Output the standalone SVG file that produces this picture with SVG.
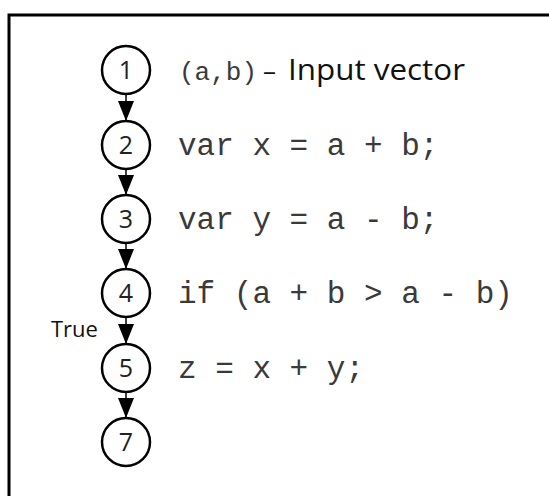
<svg xmlns="http://www.w3.org/2000/svg" width="549" height="496" viewBox="0 0 549 496">
<defs>
<style>
.node circle{fill:#fff;stroke:#000;stroke-width:2.5}
.node text{font-family:"Open Sans","Liberation Sans",sans-serif;font-size:25px;fill:#222;text-anchor:middle}
.code{font-family:"Liberation Mono","Courier New",monospace;font-size:31px;fill:#3a3a3a}
.sans{font-family:"Open Sans","Liberation Sans",sans-serif;fill:#111}
.edge line{stroke:#000;stroke-width:1.5}
</style>
<marker id="arr" viewBox="0 0 20 16" refX="20" refY="8" markerWidth="20" markerHeight="16" markerUnits="userSpaceOnUse" orient="auto">
<path d="M0,0 L20,8 L0,16 Z" fill="#000"/>
</marker>
</defs>
<rect x="0" y="0" width="549" height="496" fill="#fff"/>
<rect x="9" y="15" width="600" height="600" fill="none" stroke="#000" stroke-width="3"/>
<g id="connectors" class="edge">
<line x1="126" y1="94" x2="126" y2="121" marker-end="url(#arr)"/>
<line x1="126" y1="169" x2="126" y2="195" marker-end="url(#arr)"/>
<line x1="126" y1="243" x2="126" y2="269" marker-end="url(#arr)"/>
<line x1="126" y1="317" x2="126" y2="344" marker-end="url(#arr)"/>
<line x1="126" y1="392" x2="126" y2="418" marker-end="url(#arr)"/>
</g>
<g id="n1" class="node"><circle cx="126" cy="70" r="24"/><text x="126" y="79">1</text></g>
<g id="n2" class="node"><circle cx="126" cy="145" r="24"/><text x="126" y="154">2</text></g>
<g id="n3" class="node"><circle cx="126" cy="219" r="24"/><text x="126" y="228">3</text></g>
<g id="n4" class="node"><circle cx="126" cy="293" r="24"/><text x="126" y="302">4</text></g>
<g id="n5" class="node"><circle cx="126" cy="368" r="24"/><text x="126" y="377">5</text></g>
<g id="n7" class="node"><circle cx="126" cy="442" r="24"/><text x="126" y="451">7</text></g>
<g id="labels">
<text class="code" x="179" y="80" style="font-size:26px">(a,b)</text>
<text class="sans" x="263" y="80" font-size="26">–</text>
<text class="sans" x="288" y="80" font-size="29" textLength="177" lengthAdjust="spacingAndGlyphs">Input vector</text>
<text class="code" x="178" y="155">var x = a + b;</text>
<text class="code" x="178" y="229">var y = a - b;</text>
<text class="code" x="178" y="303">if (a + b &gt; a - b)</text>
<text class="code" x="178" y="378">z = x + y;</text>
<text class="sans" x="51" y="337" font-size="22">True</text>
</g>
</svg>
